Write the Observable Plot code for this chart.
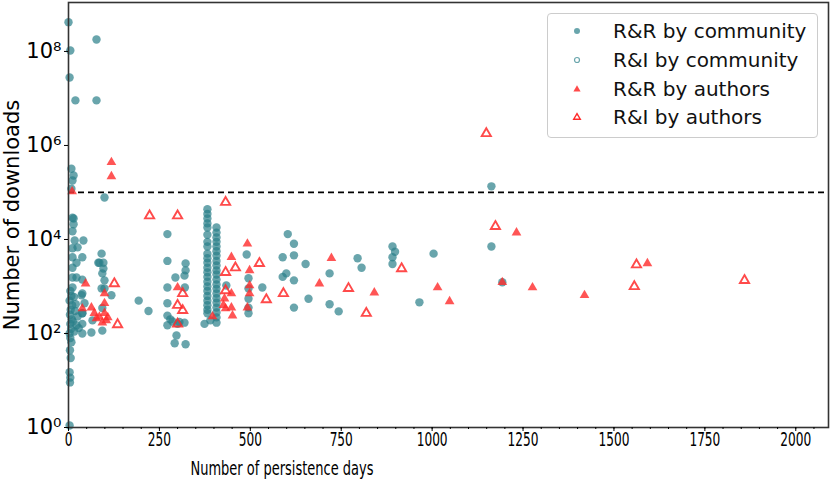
<!DOCTYPE html>
<html>
<head>
<meta charset="utf-8">
<script src="https://cdn.jsdelivr.net/npm/d3@7"></script>
<script src="https://cdn.jsdelivr.net/npm/@observablehq/plot@0.6"></script>
<style>
  body { margin: 0; background: #fff; }
  #wrap { position: relative; width: 831px; height: 480px; font-family: "DejaVu Sans", sans-serif; overflow: hidden; }
  #xtitle { position: absolute; left: 0; width: 564px; top: 459px; height: 18px; line-height: 18px; text-align: center; font-size: 20px; color: #000; transform: scaleX(0.65); transform-origin: 282px 0; white-space: nowrap; }
  #legend { position: absolute; left: 547px; top: 13px; width: 271px; height: 125px; box-sizing: border-box; border: 1px solid #ccc; border-radius: 4px; background: rgba(255,255,255,0.85); }
  .row { position: absolute; left: 0; height: 28px; display: flex; align-items: center; font-size: 20px; color: #111; white-space: nowrap; }
  .row svg { margin-left: 23px; margin-right: 30px; }
</style>
</head>
<body>
<div id="wrap">
  <div id="chart"></div>
  <div id="xtitle">Number of persistence days</div>
  <div id="legend"></div>
</div>
<script>
// ---- data ----
const rrCommDays = [
  0, 77, 5, 3, 19, 77,
  8, 14, 11, 8, 99, 1163,
  14, 14, 11, 17, 41, 11, 38, 11, 91, 82, 96, 96, 11, 11, 38, 99, 11, 99,
  38, 44, 38, 38, 38, 63, 66, 93, 118, 93, 91, 36, 38, 22, 22, 11, 25, 85, 93,
  5, 8, 3, 10, 6, 4, 9, 5, 7, 3, 5, 8, 4, 6, 3, 5, 4, 3,
  15, 20, 18, 25, 12, 28, 16, 22,
  193, 220, 272, 272, 322, 322, 319, 294, 272, 272, 272, 272, 286, 305, 319, 297, 292, 322, 280, 300, 320,
  382, 382, 382, 382, 382, 382, 382, 382, 382, 382, 382, 382, 382, 382, 382, 382, 382, 382, 382, 382, 382, 382,
  407, 407, 407, 407, 407, 407, 407, 407, 407, 407, 407, 407, 407, 407, 407, 407, 407, 407, 407, 407, 407,
  374, 390, 434, 490, 495, 495, 495, 495, 495,
  603, 620, 589, 620, 652, 599, 589, 620, 533, 660, 620, 718, 718, 743, 795, 806,
  891, 891, 891, 898, 1004, 1163, 965, 1193
];
const rrCommDownloads = [
  4.2e8, 1.8e8, 1.05e8, 2.8e7, 9.1e6, 9.1e6,
  3.2e5, 2.3e5, 1.8e5, 1.2e5, 7.8e4, 1.35e5,
  2.8e4, 2.1e4, 1.5e4, 9.5e3, 9.5e3, 6.5e3, 4.2e3, 4.2e3, 5.0e3, 3.2e3, 3.2e3, 2.4e3, 2.5e3, 1.55e3, 1.4e3, 1.35e3, 950, 910,
  710, 440, 270, 160, 100, 105, 190, 350, 650, 115, 910, 650, 270, 1550, 3200, 2.9e4, 6.8e3, 3.2e3, 1.9e3,
  800, 630, 500, 400, 320, 250, 200, 160, 125, 100, 80, 65, 44, 30, 15, 11.5, 9.1, 1.1,
  600, 420, 300, 230, 180, 130, 110, 150,
  500, 300, 1.3e4, 3.5e3, 3.1e3, 2.2e3, 1.7e3, 1.55e3, 950, 440, 240, 150, 180, 175, 170, 91, 62, 59, 200, 160, 950,
  4.4e4, 3.5e4, 2.8e4, 2.2e4, 1.8e4, 1.26e4, 8.9e3, 7.1e3, 5.0e3, 4.0e3, 3.2e3, 2.5e3, 2.0e3, 1.6e3, 1.26e3, 1.0e3, 800, 630, 500, 400, 320, 270,
  1.8e4, 1.4e4, 1.1e4, 8.9e3, 7.1e3, 5.6e3, 4.5e3, 3.5e3, 2.8e3, 2.2e3, 1.8e3, 1.4e3, 1.1e3, 890, 710, 560, 450, 355, 280, 220, 170,
  160, 190, 1050, 4.8e3, 1.5e3, 910, 550, 355, 270,
  1.3e4, 8.1e3, 4.2e3, 4.6e3, 3.0e3, 1.9e3, 1.6e3, 1.35e3, 950, 550, 355, 1.9e3, 420, 295, 4.0e3, 2.5e3,
  7.1e3, 4.2e3, 3.0e3, 5.5e3, 5.0e3, 7.1e3, 460, 1.23e3
];
const riCommDays = [];
const riCommDownloads = [];
const rrAuthDays = [
  10, 118, 118, 47, 38, 63, 71, 77, 99, 99, 99, 104, 93, 108, 85,
  300, 492, 448, 498, 498, 498, 492, 448, 429, 426, 432, 448, 451, 396,
  723, 690, 841, 1015, 1048, 1232, 1193, 1276, 1419, 1592
];
const rrAuthDownloads = [
  1.05e5, 4.4e5, 2.2e5, 1.15e3, 340, 355, 270, 210, 710, 440, 270, 190, 170, 220, 225,
  950, 8.1e3, 4.2e3, 2.2e3, 1.05e3, 710, 355, 710, 550, 400, 340, 355, 240, 230,
  4.0e3, 1.15e3, 740, 950, 480, 1.4e4, 1.23e3, 950, 650, 3.1e3
];
const riAuthDays = [
  126, 135, 223, 300, 432, 314, 300, 314, 300, 459, 432, 432,
  525, 544, 591, 770, 819, 916, 1174, 1149, 1562, 1556, 1859
];
const riAuthDownloads = [
  1.15e3, 155, 3.2e4, 3.2e4, 6.2e4, 710, 400, 310, 160, 2.5e3, 2.0e3, 820,
  3.1e3, 525, 710, 910, 270, 2.4e3, 1.9e4, 1.8e6, 2.9e3, 1.0e3, 1.35e3
];
const threshold = [1e5];
const xTicks = [0, 250, 500, 750, 1000, 1250, 1500, 1750, 2000];
const xMinorTicks = d3.range(0, 2100, 50);
const yTicks = [1, 1e2, 1e4, 1e6, 1e8];
const yTickLabels = ["10⁰", "10²", "10⁴", "10⁶", "10⁸"];
const seriesNames = ["R&R by community", "R&I by community", "R&R by authors", "R&I by authors"];

// ---- styles ----
const teal = "#2a7f89";
const red = "#ff2a2a";

const toRows = (days, dl) => days.map((d, i) => ({days: d, downloads: dl[i]}));
const rrComm = toRows(rrCommDays, rrCommDownloads);
const riComm = toRows(riCommDays, riCommDownloads);
const rrAuth = toRows(rrAuthDays, rrAuthDownloads);
const riAuth = toRows(riAuthDays, riAuthDownloads);

const chart = Plot.plot({
  width: 831,
  height: 480,
  marginLeft: 68,
  marginRight: 3,
  marginTop: 2,
  marginBottom: 53,
  style: {fontFamily: "DejaVu Sans, sans-serif", color: "#000", background: "#fff"},
  x: {domain: [0, 2090]},
  y: {type: "log", domain: [1, 1.1e9]},
  marks: [
    Plot.ruleY(threshold, {stroke: "#000", strokeDasharray: "6,4", strokeWidth: 1.8}),
    Plot.dot(rrComm, {x: "days", y: "downloads", r: 4.2, fill: teal, fillOpacity: 0.7}),
    Plot.dot(riComm, {x: "days", y: "downloads", r: 3.6, fill: "none", stroke: teal, strokeWidth: 1.4}),
    Plot.dot(rrAuth, {x: "days", y: "downloads", symbol: "triangle", r: 3.6, fill: red, fillOpacity: 0.8}),
    Plot.dot(riAuth, {x: "days", y: "downloads", symbol: "triangle", r: 3.4, fill: "none", stroke: red, strokeOpacity: 0.85, strokeWidth: 1.9}),
    Plot.frame({stroke: "#333", strokeWidth: 1.6}),
    Plot.axisX(xMinorTicks, {tickSize: 2, tickFormat: () => "", label: null}),
    Plot.axisX(xTicks, {tickSize: 4, tickPadding: 1, fontSize: 19, label: null, tickFormat: (d) => String(d)}),
    Plot.axisY(yTicks, {tickSize: 4, tickPadding: 3, fontSize: 21,
      tickFormat: (d) => yTickLabels[yTicks.indexOf(d)],
      label: "Number of downloads", labelAnchor: "center", labelArrow: "none", labelOffset: 64})
  ]
});
document.getElementById("chart").appendChild(chart);

// condensed look of the x tick labels
d3.select(chart).selectAll('g[aria-label="x-axis tick label"] text').each(function() {
  const t = this.getAttribute("transform") || "";
  this.setAttribute("transform", t + " scale(0.64,1)");
});

// ---- legend ----
const legend = document.getElementById("legend");
const rowTops = [3, 32, 61, 89];
seriesNames.forEach((name, i) => {
  const row = document.createElement("div");
  row.className = "row";
  row.style.top = rowTops[i] + "px";
  let marker;
  if (i === 0) marker = `<circle cx="6" cy="6" r="3" fill="${teal}" fill-opacity="0.7"/>`;
  if (i === 1) marker = `<circle cx="6" cy="6" r="2.5" fill="none" stroke="${teal}" stroke-opacity="0.7" stroke-width="1.2"/>`;
  if (i === 2) marker = `<path d="M6,2.2L9.6,8.5H2.4Z" fill="${red}" fill-opacity="0.85"/>`;
  if (i === 3) marker = `<path d="M6,2.6L9.3,8.2H2.7Z" fill="none" stroke="${red}" stroke-width="1.4"/>`;
  row.innerHTML = `<svg width="12" height="12">${marker}</svg><span>${name}</span>`;
  legend.appendChild(row);
});
</script>
</body>
</html>
